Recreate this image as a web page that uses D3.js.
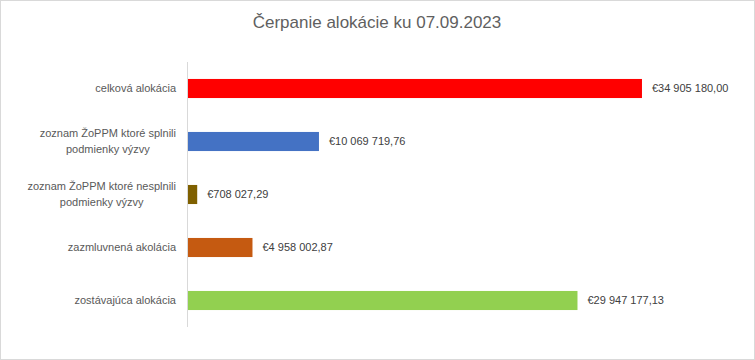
<!DOCTYPE html>
<html><head><meta charset="utf-8">
<script src="https://cdn.jsdelivr.net/npm/d3@7"></script>
<style>body{margin:0;background:#fff}svg{display:block}</style>
</head><body>
<svg id="c" width="755" height="360"></svg>
<script>
const title = "Čerpanie alokácie ku 07.09.2023";
const categories = [
  ["celková alokácia"],
  ["zoznam ŽoPPM ktoré splnili", "podmienky výzvy"],
  ["zoznam ŽoPPM ktoré nesplnili", "podmienky výzvy"],
  ["zazmluvnená akolácia"],
  ["zostávajúca alokácia"]
];
const values = [34905180.00, 10069719.76, 708027.29, 4958002.87, 29947177.13];
const valueLabels = ["€34 905 180,00", "€10 069 719,76", "€708 027,29", "€4 958 002,87", "€29 947 177,13"];
const colors = ["#FF0000", "#4472C4", "#7F6000", "#C55A11", "#92D050"];

const svg = d3.select("#c");
const font = "'Liberation Sans', Arial, sans-serif";
svg.append("rect").attr("x",0.5).attr("y",0.5).attr("width",754).attr("height",359)
  .attr("fill","#fff").attr("stroke","#d9d9d9");

svg.append("text").attr("x",377).attr("y",28).attr("text-anchor","middle")
  .attr("font-family",font).attr("font-size",17).attr("fill","#5f5f5f").text(title);

const idx = d3.range(values.length);
const y = d3.scaleBand().domain(idx).range([62,327]).paddingInner(0.64).paddingOuter(0.32);
const x = d3.scaleLinear().domain([0,35000000]).range([188,643.2]);

svg.append("line").attr("x1",187.5).attr("x2",187.5).attr("y1",62).attr("y2",327)
  .attr("stroke","#d9d9d9");

svg.selectAll("rect.bar").data(idx).enter().append("rect").attr("class","bar")
  .attr("x",x(0)).attr("y",i=>y(i)).attr("width",i=>x(values[i])-x(0))
  .attr("height",y.bandwidth()).attr("fill",i=>colors[i]);

svg.selectAll("text.val").data(idx).enter().append("text").attr("class","val")
  .attr("x",i=>x(values[i])+10).attr("y",i=>y(i)+y.bandwidth()/2).attr("dy","0.35em")
  .attr("font-family",font).attr("font-size",11).attr("fill","#404040").text(i=>valueLabels[i]);

idx.forEach(i=>{
  const lines = categories[i];
  const cy = y(i)+y.bandwidth()/2;
  const lh = 16;
  const g = svg.append("g");
  const ts = lines.map((l,k)=>g.append("text")
    .attr("y", cy + (k-(lines.length-1)/2)*lh).attr("dy","0.35em")
    .attr("font-family",font).attr("font-size",11).attr("fill","#595959").text(l));
  const w = d3.max(ts, t=>t.node().getComputedTextLength());
  ts.forEach(t=>t.attr("x",176 - w/2).attr("text-anchor","middle"));
});
</script>
</body></html>
